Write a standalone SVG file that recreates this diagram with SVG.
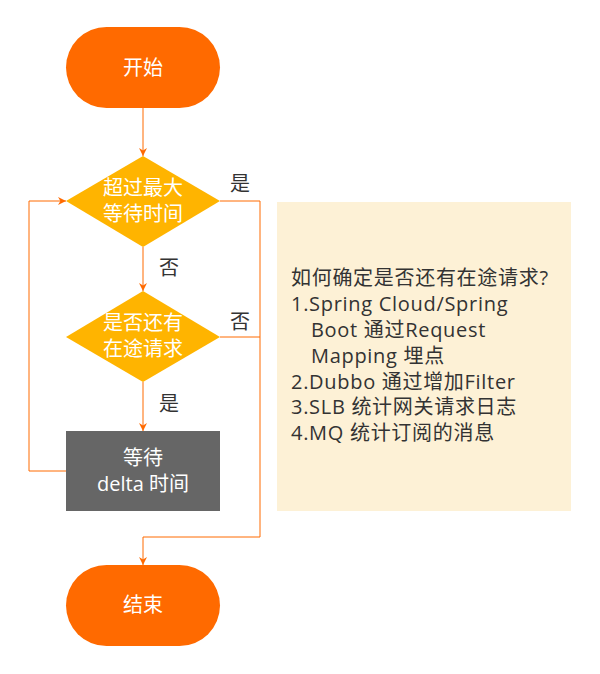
<svg xmlns="http://www.w3.org/2000/svg" width="600" height="674" viewBox="0 0 600 674">
<defs>
<style>
.t{font-family:"Open Sans","Noto Sans CJK SC",sans-serif;font-size:20px;}
.w{fill:#ffffff;text-anchor:middle;}
.lb{fill:#333333;text-anchor:middle;}
.e{fill:none;stroke:#ff6a00;stroke-width:1;}
.n{fill:#333333;letter-spacing:0.7px;}
</style>
<marker id="ah" viewBox="0 0 10 10" refX="10" refY="5" markerWidth="8" markerHeight="8" markerUnits="userSpaceOnUse" orient="auto">
<path d="M0,0 L10,5 L0,10 L3,5 Z" fill="#ff6a00"/>
</marker>
</defs>
<rect width="600" height="674" fill="#ffffff"/>
<g id="edges">
<path class="e" d="M143,108 V156" marker-end="url(#ah)"/>
<path class="e" d="M143,247 V291" marker-end="url(#ah)"/>
<path class="e" d="M143,382 V431" marker-end="url(#ah)"/>
<path class="e" d="M66,471 H29 V201 H66" marker-end="url(#ah)"/>
<path class="e" d="M220,201 H260 V537 H143 V565" marker-end="url(#ah)"/>
<path class="e" d="M220,337 H260"/>
</g>
<g id="labels" class="t">
<text class="lb" x="240" y="191">是</text>
<text class="lb" x="169" y="275">否</text>
<text class="lb" x="240" y="329">否</text>
<text class="lb" x="169" y="411">是</text>
</g>
<g id="start">
<rect x="66" y="27" width="154" height="81" rx="40.5" fill="#ff6a00"/>
<text class="t w" x="143" y="75">开始</text>
</g>
<g id="d1">
<polygon points="143,156 220,201 143,247 66,201" fill="#ffb400"/>
<text class="t w" x="143" y="195">超过最大</text>
<text class="t w" x="143" y="221">等待时间</text>
</g>
<g id="d2">
<polygon points="143,291 220,337 143,382 66,337" fill="#ffb400"/>
<text class="t w" x="143" y="330">是否还有</text>
<text class="t w" x="143" y="356">在途请求</text>
</g>
<g id="wait">
<rect x="66" y="431" width="154" height="80" fill="#666666"/>
<text class="t w" x="143" y="465">等待</text>
<text class="t w" x="143" y="491">delta 时间</text>
</g>
<g id="end">
<rect x="66" y="565" width="154" height="81" rx="40.5" fill="#ff6a00"/>
<text class="t w" x="143" y="612">结束</text>
</g>
<g id="note">
<rect x="277" y="202" width="294" height="309" fill="#fdf1d6"/>
<g class="t n">
<text x="291" y="285">如何确定是否还有在途请求?</text>
<text x="291" y="311">1.Spring Cloud/Spring</text>
<text x="311" y="337">Boot 通过Request</text>
<text x="311" y="363">Mapping 埋点</text>
<text x="291" y="389">2.Dubbo 通过增加Filter</text>
<text x="291" y="414">3.SLB 统计网关请求日志</text>
<text x="291" y="440">4.MQ 统计订阅的消息</text>
</g>
</g>
</svg>
